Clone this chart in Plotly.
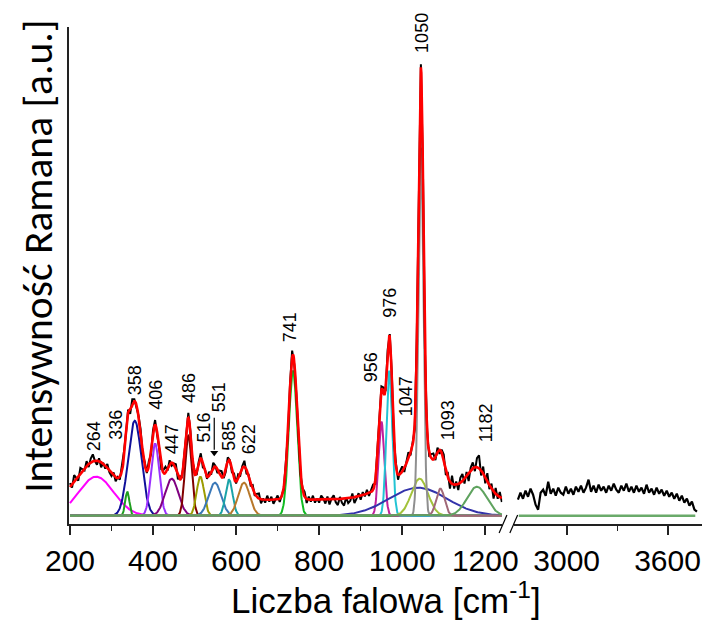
import numpy as np
import plotly.graph_objects as go

# ---------------- data ----------------
# fitted component bands (centre [cm-1], height [a.u.], gaussian sigma [cm-1])
band_center = [263, 338, 356, 405, 445, 485, 514, 549, 583, 619, 737, 950, 969, 1038, 1042, 1045, 1092, 1180]
band_height = [39, 24, 95, 72, 37, 80, 39, 33, 36, 33, 145, 94, 145, 28, 37, 368, 27, 29]
band_sigma = [42, 5, 16, 10, 16, 8, 9, 15, 8.5, 14, 10, 7, 7, 70, 20, 6, 10, 24]
band_color = ["#ff00ff", "#1f9e1f", "#10109a", "#9b30ff", "#800080", "#800000", "#9c9c00",
              "#3a78b8", "#1aa3a8", "#b8782a", "#11bb22", "#c0209c", "#22c4d4", "#3333aa",
              "#a2c23a", "#8f8f8f", "#a06878", "#5fa35f"]
fit_offset = 16  # constant background of the fit

# measured spectrum, low-wavenumber part: deviation of the measured points from the fit (every 5 cm-1, 200..1240)
meas_x_left = list(range(200, 1241, 5))
meas_resid_left = [
    4, -3, 7, 1, -4, 6, 2, -2, 5, -3, 4, 7, 0, -4, 3, -5, 1, -3, 4, -2,
    -3, 3, -4, 1, -3, 4, 5, -2, 3, -4, 6, 2, -3, 1, 4, -3, 3, -2, 5, -4,
    3, 5, -3, 1, -4, 3, 6, -2, 4, -3, 1, 5, -4, 3, -2, 4, -3, 5, 1, -3,
    4, -3, 1, 5, -4, 3, -2, 4, -3, 5, 1, -4, 3, 6, -2, -3, 4, 1, -3, 5,
    -2, 4, -3, 2, 6, -4, 1, -3, 4, -2, 3, 5, -4, 1, -3, 4, -2, 3, -4, 1,
    4, -3, 1, -2, 5, -4, 3, 7, -3, 1, 4, -3, 1, 5, -4, 3, -2, 4, -3, 1,
    -3, 4, 1, -4, 3, -5, 1, 4, -3, -6, 2, -4, -7, 1, -5, -3, 4, -6, -2, 3,
    -4, 3, -2, 4, -3, 1, 5, -3, 4, -5, 3, 6, -4, 1, 3, 7, -3, 4, -5, 3,
    5, -4, 3, 6, -3, 4, -5, 7, -4, 3, 5, -4, 1, -3, 4, 6, -3, 5, -4, 3,
    6, -5, 4, -7, 8, -4, 3, -6, 5, 7, -5, 4, -8, 3, 6, -4, 9, 13, -5, 7,
    -6, 8, -4, 5, -7, 6, -3, 5, -4,
]

# measured spectrum, high-wavenumber part (every 15 cm-1, 2710..3775)
meas_x_right = list(range(2710, 3776, 15))
meas_y_right = [
    16, 23, 17, 25, 19, 27, 21, 11, 6, 23, 26, 20, 34, 22, 27, 20, 28, 23, 21, 29,
    22, 27, 21, 29, 24, 30, 23, 28, 36, 24, 30, 23, 31, 25, 29, 23, 30, 25, 32, 26,
    23, 30, 25, 32, 24, 29, 23, 30, 24, 28, 22, 31, 23, 27, 21, 28, 22, 26, 20, 25,
    19, 23, 17, 22, 15, 20, 13, 17, 10, 14, 6, 4,
]

baseline_left = [200, 1240]
baseline_right = [2715, 3765]

# peak labels
label_text = ["264", "336", "358", "406", "447", "486", "516", "551", "585", "622",
              "741", "956", "976", "1047", "1050", "1093", "1182"]
label_x = [258.7, 310.3, 357.3, 406.6, 446.5, 486.4, 521.6, 559.2, 582.6, 631.9,
           730.5, 925.4, 970.0, 1009.9, 1047.4, 1110.8, 1202.3]
label_y = [79.7, 90.7, 135.7, 120.7, 76.7, 127.7, 87.7, 118.7, 79.7, 76.7,
           188.7, 148.7, 212.7, 119.7, 482.7, 95.7, 92.7]

tick_vals_left = [200, 400, 600, 800, 1000, 1200]
tick_vals_right = [3000, 3600]

# ---------------- build figure ----------------
xs = np.arange(200, 1241, 1.0)


def band(x, c, h, s):
    return h * np.exp(-((x - c) ** 2) / (2 * s * s))


fig = go.Figure()

# baselines
fig.add_trace(go.Scatter(x=baseline_left, y=[0, 0], mode="lines",
                         line=dict(color="#6aaa6a", width=2.5), xaxis="x", yaxis="y"))
fig.add_trace(go.Scatter(x=baseline_right, y=[0, 0], mode="lines",
                         line=dict(color="#6aaa6a", width=2.5), xaxis="x2", yaxis="y"))

# component bands
fit = np.full_like(xs, float(fit_offset))
for c, h, s, col in zip(band_center, band_height, band_sigma, band_color):
    yb = band(xs, c, h, s)
    fit += yb
    fig.add_trace(go.Scatter(x=xs, y=yb, mode="lines", line=dict(color=col, width=2),
                             xaxis="x", yaxis="y"))

# measured spectrum
mx = np.array(meas_x_left, dtype=float)
fit_at_meas = np.full_like(mx, float(fit_offset))
for c, h, s in zip(band_center, band_height, band_sigma):
    fit_at_meas += band(mx, c, h, s)
meas_y_left = fit_at_meas + np.array(meas_resid_left, dtype=float)
fig.add_trace(go.Scatter(x=mx, y=meas_y_left, mode="lines",
                         line=dict(color="black", width=2), xaxis="x", yaxis="y"))
fig.add_trace(go.Scatter(x=meas_x_right, y=meas_y_right, mode="lines",
                         line=dict(color="black", width=2.2), xaxis="x2", yaxis="y"))

# cumulative fit
fig.add_trace(go.Scatter(x=xs, y=fit, mode="lines", line=dict(color="#ff0000", width=2.6),
                         xaxis="x", yaxis="y"))

# arrowhead pointing at the 551 band
fig.add_trace(go.Scatter(x=[547.4], y=[63], mode="markers",
                         marker=dict(symbol="triangle-down", size=7, color="black"),
                         xaxis="x", yaxis="y"))

# peak labels
annotations = []
for t, lx, ly in zip(label_text, label_x, label_y):
    annotations.append(dict(x=lx, y=ly, xref="x", yref="y", text=t, showarrow=False,
                            textangle=-90, xanchor="center", yanchor="middle",
                            font=dict(family="Liberation Sans, Arial", size=18, color="black")))
# axis titles
annotations.append(dict(x=0.501, y=-0.148, xref="paper", yref="paper",
                        text="Liczba falowa [cm<sup>-1</sup>]", showarrow=False,
                        xanchor="center", yanchor="middle",
                        font=dict(family="Liberation Sans, Arial", size=35, color="black")))
annotations.append(dict(x=-0.051, y=0.539, xref="paper", yref="paper",
                        text="Intensywność Ramana [a.u.]", showarrow=False, textangle=-90,
                        xanchor="center", yanchor="middle",
                        font=dict(family="Carlito, Calibri, Lato", size=41.5, color="black")))

# axis break marks and the 551 leader line
shapes = []
for x0 in (510.0, 521.0):
    shapes.append(dict(type="line", xref="paper", yref="paper",
                       x0=(x0 - 69) / 649, y0=(524 - 533) / 497,
                       x1=(x0 + 8 - 69) / 649, y1=(524 - 515) / 497,
                       line=dict(color="black", width=1.2)))
shapes.append(dict(type="line", xref="x", yref="y", x0=547.4, y0=66, x1=547.4, y1=98,
                   line=dict(color="black", width=1.2)))

axis_common = dict(showline=True, linecolor="#222", linewidth=1.5, ticks="outside",
                   ticklen=9, tickwidth=1.5, tickcolor="#222", showgrid=False,
                   zeroline=False, tickfont=dict(family="Liberation Sans, Arial", size=30,
                                                 color="black"))

fig.update_layout(
    width=724, height=624,
    margin=dict(l=69, r=6, t=27, b=100),
    paper_bgcolor="white", plot_bgcolor="white",
    showlegend=False,
    xaxis=dict(domain=[0, 0.6845], range=[197.65, 1241], tickvals=tick_vals_left,
               minor=dict(ticks="outside", ticklen=5, tickwidth=1.2, tickcolor="#222",
                          dtick=100, tick0=200, showgrid=False),
               anchor="y", **axis_common),
    xaxis2=dict(domain=[0.7026, 1], range=[2685, 3805], tickvals=tick_vals_right,
                minor=dict(ticks="outside", ticklen=5, tickwidth=1.2, tickcolor="#222",
                           tickvals=[3300], showgrid=False),
                anchor="y", **axis_common),
    yaxis=dict(range=[-8.3, 488.7], showline=True, linecolor="#222", linewidth=1.5,
               showticklabels=False, ticks="", showgrid=False, zeroline=False),
    annotations=annotations,
    shapes=shapes,
)

fig.write_html("out.html", config={"displayModeBar": False})
